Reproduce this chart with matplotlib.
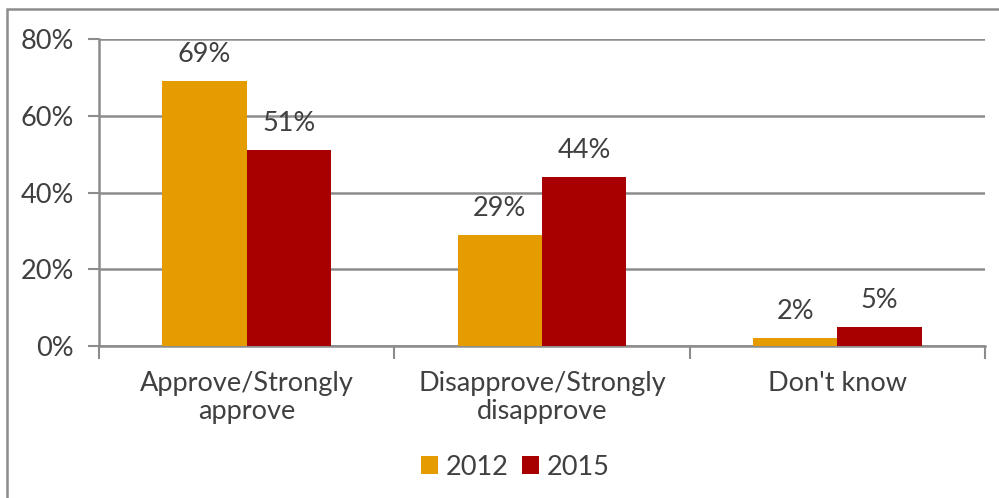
import matplotlib.pyplot as plt
from matplotlib.patches import Rectangle
import numpy as np

categories = ["Approve/Strongly\napprove", "Disapprove/Strongly\ndisapprove", "Don't know"]
years = ["2012", "2015"]
share_2012 = [69, 29, 2]
share_2015 = [51, 44, 5]
y_ticks = [0, 20, 40, 60, 80]

orange = "#E59C00"
red = "#A80000"
grey = "#8C8C8C"
text_col = "#404040"
fs = 19.5

plt.rcParams['font.family'] = ['Lato', 'DejaVu Sans']

fig = plt.figure(figsize=(9.99, 4.98), dpi=100)
ax = fig.add_axes([99 / 999, 1 - 346 / 498, 886 / 999, 307 / 498])

x = np.arange(len(categories))
w = 0.285
bars1 = ax.bar(x - w / 2, share_2012, w, color=orange, label=years[0], zorder=3)
bars2 = ax.bar(x + w / 2, share_2015, w, color=red, label=years[1], zorder=3)

for bars, vals in [(bars1, share_2012), (bars2, share_2015)]:
    for b, v in zip(bars, vals):
        ax.annotate(f"{v}%", (b.get_x() + b.get_width() / 2, v),
                    xytext=(0, 10), textcoords="offset points",
                    ha="center", va="bottom", fontsize=fs, color=text_col)

ax.set_xlim(-0.5, 2.5)
ax.set_ylim(0, 80)
ax.set_yticks(y_ticks)
ax.set_yticklabels([f"{t}%" for t in y_ticks])
ax.yaxis.grid(True, color=grey, linewidth=1.8, zorder=0)

ax.set_xticks(x)
ax.set_xticklabels(categories, fontsize=fs, color=text_col, linespacing=1.15)
ax.set_xticks([-0.5, 0.5, 1.5, 2.5], minor=True)
ax.tick_params(axis="x", which="major", length=0, pad=18)
ax.tick_params(axis="x", which="minor", length=9, width=1.5, color=grey)
ax.tick_params(axis="y", length=8, width=1.5, color=grey, labelsize=fs,
               labelcolor=text_col, pad=10)

for s in ["top", "right"]:
    ax.spines[s].set_visible(False)
for s in ["left", "bottom"]:
    ax.spines[s].set_color(grey)
    ax.spines[s].set_linewidth(1.8)

ax.legend(loc="center", bbox_to_anchor=(0.516, 0.062), bbox_transform=fig.transFigure,
          ncol=2, frameon=False, fontsize=fs, handlelength=0.6, handleheight=0.6,
          handletextpad=0.3, columnspacing=0.5, labelcolor=text_col)

# chart frame
fig.patches.append(Rectangle((7 / 999, -0.1), 1.1, 0.1 + (498 - 9) / 498,
                             transform=fig.transFigure, fill=False,
                             edgecolor=grey, linewidth=1.8))

fig.savefig("out.png", dpi=100)
